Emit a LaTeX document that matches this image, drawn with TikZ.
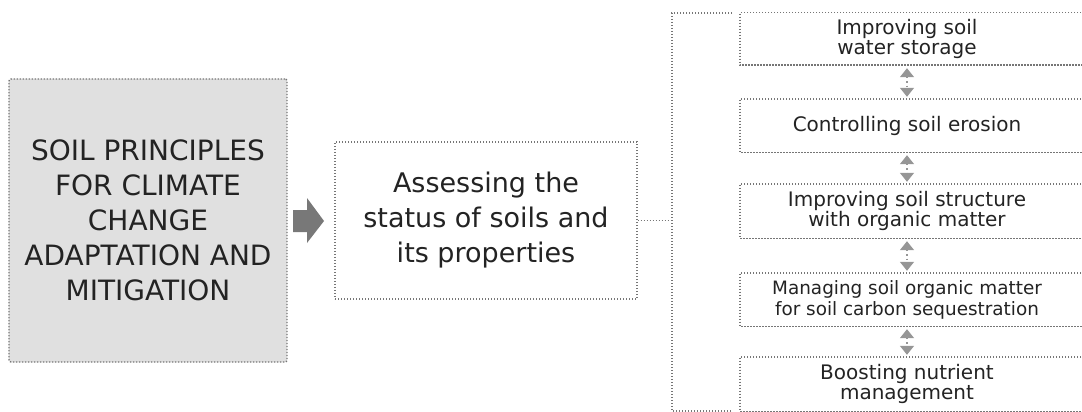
\documentclass[tikz,border=0pt]{standalone}
\usepackage{fontspec}
\setmainfont{DejaVu Sans}
\usetikzlibrary{arrows.meta}
\definecolor{dotgray}{RGB}{118,118,118}
\definecolor{boxfill}{RGB}{224,224,224}
\definecolor{blockarrow}{RGB}{120,120,120}
\definecolor{txt}{RGB}{35,35,35}
\definecolor{headgray}{RGB}{150,150,150}
\begin{document}
\begin{tikzpicture}[x=1pt,y=-1pt,
  dots/.style={draw=dotgray, line width=1.4pt, dash pattern=on 1.4pt off 1.6pt},
  leftbox/.style={dots, fill=boxfill, rounded corners=2pt, minimum width=278pt, minimum height=283pt, inner sep=0pt, align=center, text=txt, font=\fontsize{28}{35}\selectfont},
  midbox/.style={dots, minimum width=302pt, minimum height=157pt, inner sep=0pt, align=center, text=txt, font=\fontsize{27}{35}\selectfont},
  rbox/.style={minimum width=334pt, inner sep=0pt, align=center, text=txt, font=\fontsize{20}{20}\selectfont},
  smallrbox/.style={rbox, font=\fontsize{18.4}{21}\selectfont},
  twoway/.style={draw=headgray, line width=1.4pt, dash pattern=on 1.4pt off 3pt,
    {Triangle[width=14pt,length=9pt]}-{Triangle[width=14pt,length=9pt]},
    shorten <=3pt, shorten >=2pt},
  bigarrow/.style={fill=blockarrow}
]
\useasboundingbox (0,0) rectangle (1082,412);
\clip (0,0) rectangle (1082,412);

% main boxes
\node[leftbox] (L) at (148,220.5) {SOIL PRINCIPLES\\FOR CLIMATE\\CHANGE\\ADAPTATION AND\\MITIGATION};
\node[midbox] (M) at (486,220.5) {Assessing the\\status of soils and\\its properties};

% block arrow between them
\fill[bigarrow] (293,210) -- (307,210) -- (307,198) -- (324,221) -- (307,243) -- (307,232) -- (293,232) -- cycle;

% right-hand boxes (open on the right, cut by the page edge)
\node[rbox, minimum height=52pt] (B1) at (907,39) {Improving soil\\water storage};
\node[rbox, minimum height=53pt] (B2) at (907,125.5) {Controlling soil erosion};
\node[rbox, minimum height=54pt] (B3) at (907,211) {Improving soil structure\\with organic matter};
\node[smallrbox, minimum height=53pt] (B4) at (907,299.5) {Managing soil organic matter\\for soil carbon sequestration};
\node[rbox, minimum height=54pt] (B5) at (907,384) {Boosting nutrient\\management};

\coordinate (edge) at (1090,0);
\foreach \b in {B1,B2,B3,B4,B5}{
  \draw[dots] (\b.north west -| edge) -- (\b.north west) -- (\b.south west) -- (\b.south west -| edge);
}

% bracket
\coordinate (brT) at (672,13);
\coordinate (brB) at (672,411);
\draw[dots] (732,13) -- (brT) -- (brB) -- (732,411);
\draw[dots] (M.east) -- (M.east -| brT);

% two-way arrows
\draw[twoway] (B1.south) -- (B2.north);
\draw[twoway] (B2.south) -- (B3.north);
\draw[twoway] (B3.south) -- (B4.north);
\draw[twoway] (B4.south) -- (B5.north);
\end{tikzpicture}
\end{document}
